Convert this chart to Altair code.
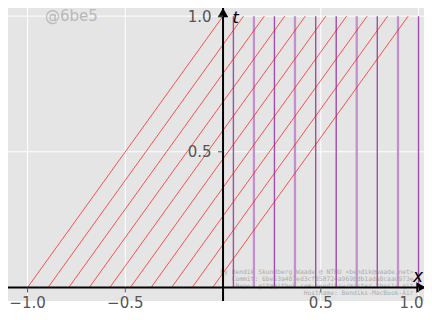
import altair as alt
import pandas as pd

# ---- data ----
red_start = [-1.0, -0.895, -0.789, -0.684, -0.579, -0.474, -0.368, -0.263, -0.158, -0.053]
red_end = [0.0, 0.105, 0.211, 0.316, 0.421, 0.526, 0.632, 0.737, 0.842, 0.947]
vert_x = [0.053, 0.158, 0.263, 0.368, 0.474, 0.579, 0.684, 0.789, 0.895, 1.0]
vert_style = ["dark", "light", "dark", "light", "dark", "dark", "light", "dark", "light", "dark"]
t_bottom = [0.0] * 10
t_top = [1.0] * 10

grid_x = [-1.0, -0.5, 0.0, 0.5, 1.0]
grid_y = [0.0, 0.5, 1.0]
x_ticks = [-1.0, -0.5, 0.5, 1.0]
x_tick_labels = ["\u22121.0", "\u22120.5", "0.5", "1.0"]
y_ticks = [0.5, 1.0]
y_tick_labels = ["0.5", "1.0"]

info_lines = [
    "By Bendik Skundberg Waade @ NTNU <bendik@waade.net>",
    "Commit: 6be53a487ed3cf858724a969bdb1ada8caad973e",
    "Repo: git@github.com:bendiksw/master-thesis.git",
    "Hostname: Bendiks-MacBook-Air",
]
watermark = "@6be5"

XDOM = [-1.1, 1.028]
YDOM = [-0.05, 1.03]
xs = alt.Scale(domain=XDOM, nice=False, zero=False)
ys = alt.Scale(domain=YDOM, nice=False, zero=False)

red_df = pd.DataFrame({"x0": red_start, "x1": red_end, "t0": t_bottom, "t1": t_top})
vert_df = pd.DataFrame({"x": vert_x, "style": vert_style, "t0": t_bottom, "t1": t_top})
gx_df = pd.DataFrame({"x": grid_x})
gy_df = pd.DataFrame({"t": grid_y})
xt_df = pd.DataFrame({"x": x_ticks, "label": x_tick_labels, "t": [0.0] * len(x_ticks)})
yt_df = pd.DataFrame({"t": y_ticks, "label": y_tick_labels, "x": [0.0] * len(y_ticks)})

X = lambda f: alt.X(f, type="quantitative", scale=xs, axis=None, title=None)
Y = lambda f: alt.Y(f, type="quantitative", scale=ys, axis=None, title=None)

grid_v = alt.Chart(gx_df).mark_rule(color="white", strokeWidth=1).encode(x=X("x"))
grid_h = alt.Chart(gy_df).mark_rule(color="white", strokeWidth=1).encode(y=Y("t"))

info = alt.Chart(pd.DataFrame({"x": [0.975], "t": [0.0]})).mark_text(
    text=info_lines, align="right", baseline="alphabetic", dy=-13,
    font="DejaVu Sans Mono", fontSize=6.3, lineHeight=6.7, color="#ababab"
).encode(x=X("x"), y=Y("t"))

wm = alt.Chart(pd.DataFrame({"x": [-0.911], "t": [1.0]})).mark_text(
    text=watermark, align="left", baseline="alphabetic", dy=5,
    font="DejaVu Sans", fontSize=15, color="#b8b8b8"
).encode(x=X("x"), y=Y("t"))

vert_light = alt.Chart(vert_df).transform_filter(alt.datum.style == "light").mark_rule(
    color="#c490cc", strokeWidth=2.3
).encode(x=X("x"), y=Y("t0"), y2="t1")
vert_dark = alt.Chart(vert_df).transform_filter(alt.datum.style == "dark").mark_rule(
    color="#9e4fab", strokeWidth=1.4
).encode(x=X("x"), y=Y("t0"), y2="t1")

red = alt.Chart(red_df).mark_rule(color="#ff0000", opacity=0.65, strokeWidth=1).encode(
    x=X("x0"), x2="x1", y=Y("t0"), y2="t1"
)

x_axis = alt.Chart(pd.DataFrame({"t": [0.0]})).mark_rule(color="black", strokeWidth=2).encode(y=Y("t"))
y_axis = alt.Chart(pd.DataFrame({"x": [0.0]})).mark_rule(color="black", strokeWidth=2).encode(x=X("x"))

arrow_r = alt.Chart(pd.DataFrame({"x": [1.012], "t": [0.0]})).mark_point(
    shape="triangle-right", filled=True, color="black", opacity=1, size=110
).encode(x=X("x"), y=Y("t"))
arrow_u = alt.Chart(pd.DataFrame({"x": [0.0], "t": [1.013]})).mark_point(
    shape="triangle-up", filled=True, color="black", opacity=1, size=110
).encode(x=X("x"), y=Y("t"))

x_tick_marks = alt.Chart(xt_df).mark_rule(color="#555555", strokeWidth=1, y2Offset=5).encode(
    x=X("x"), y=Y("t"), y2="t"
)
y_tick_marks = alt.Chart(yt_df).mark_rule(color="#555555", strokeWidth=1, x2Offset=-5).encode(
    y=Y("t"), x=X("x"), x2="x"
)
x_tick_text = alt.Chart(xt_df).transform_filter(alt.datum.x < 0.9).mark_text(
    align="center", baseline="alphabetic", dy=21, font="DejaVu Sans", fontSize=15, color="#555555"
).encode(x=X("x"), y=Y("t"), text="label:N")
x_tick_text_last = alt.Chart(xt_df).transform_filter(alt.datum.x >= 0.9).mark_text(
    align="center", baseline="alphabetic", dy=21, dx=-7, font="DejaVu Sans", fontSize=15, color="#555555"
).encode(x=X("x"), y=Y("t"), text="label:N")
y_tick_text = alt.Chart(yt_df).mark_text(
    align="right", baseline="alphabetic", dx=-11.5, dy=5.5, font="DejaVu Sans", fontSize=15, color="#555555"
).encode(x=X("x"), y=Y("t"), text="label:N")

x_title = alt.Chart(pd.DataFrame({"x": [1.028], "t": [0.0]})).mark_text(
    text="x", align="right", baseline="alphabetic", dy=-5, dx=-1, font="DejaVu Sans",
    fontStyle="italic", fontSize=17, color="black"
).encode(x=X("x"), y=Y("t"))
t_title = alt.Chart(pd.DataFrame({"x": [0.064], "t": [1.0]})).mark_text(
    text="t", align="center", baseline="alphabetic", dy=7, font="DejaVu Sans",
    fontStyle="italic", fontSize=16, color="black"
).encode(x=X("x"), y=Y("t"))

chart = alt.layer(
    grid_v, grid_h, info, wm, vert_light, vert_dark, red,
    x_axis, y_axis, arrow_r, arrow_u, x_tick_marks, y_tick_marks,
    x_tick_text, x_tick_text_last, y_tick_text, x_title, t_title
).properties(
    width=416, height=293,
    padding={"left": 0, "top": 0, "right": 0, "bottom": 11},
    autosize=alt.AutoSizeParams(type="none"),
).configure_view(fill="#e5e5e5", stroke=None)

chart.save("out.html", embed_options={"renderer": "svg", "actions": False})
